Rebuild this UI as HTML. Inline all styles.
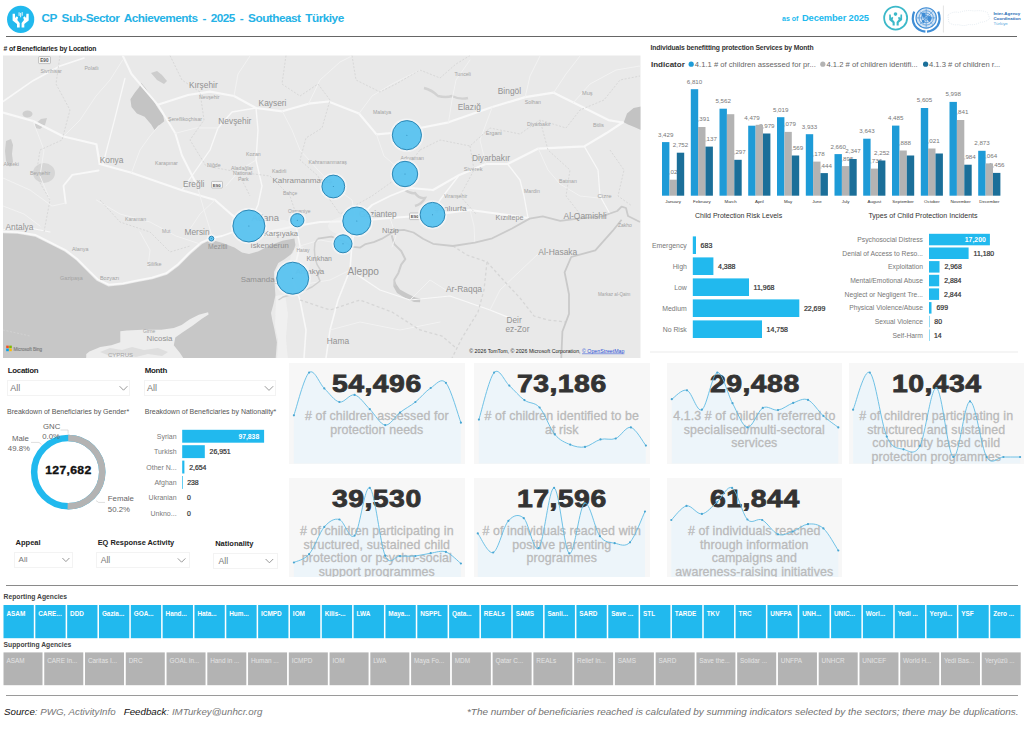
<!DOCTYPE html>
<html lang="en"><head><meta charset="utf-8"><title>CP Sub-Sector Achievements - 2025 - Southeast Türkiye</title>
<style>
html,body{margin:0;padding:0;background:#fff;}
body{width:1024px;height:730px;position:relative;overflow:hidden;font-family:"Liberation Sans",sans-serif;color:#333;}
.a{position:absolute;white-space:nowrap;line-height:1;}
svg{position:absolute;left:0;top:0;}
svg text{font-family:"Liberation Sans",sans-serif;}
.hl{position:absolute;height:1px;background:#666;}
.ttl{font-weight:bold;font-size:6.8px;color:#222;letter-spacing:-0.12px;}
.sl{font-weight:bold;font-size:7.9px;color:#222;letter-spacing:-0.3px;}
.dd{position:absolute;border:1px solid #f3f3f3;box-sizing:border-box;background:#fff;}
.dd span{position:absolute;left:2.2px;top:50%;transform:translateY(-50%);font-size:9px;color:#777;line-height:1;}
.kc{position:absolute;background:#f7f7f7;overflow:hidden;}
.kn{position:absolute;left:0;right:0;text-align:center;font-weight:bold;font-size:24.5px;color:#333;line-height:1;-webkit-text-stroke:0.8px #333;letter-spacing:0.4px;transform:scaleX(1.16);transform-origin:50% 50%;}
.kl{position:absolute;left:0;right:0;text-align:center;font-size:12.4px;line-height:13.6px;color:#bababa;-webkit-text-stroke:0.3px #bababa;white-space:nowrap;letter-spacing:0.1px;}
.rt{position:absolute;top:605px;height:33.2px;background:#21b9ee;color:#fff;font-weight:bold;font-size:6.4px;line-height:1;overflow:hidden;white-space:nowrap;}
.rt span{position:absolute;left:2.9px;top:5.2px;}
.st{position:absolute;top:652.4px;height:32.8px;background:#b3b3b3;color:#e4e4e4;font-size:6.4px;line-height:1;overflow:hidden;white-space:nowrap;}
.st span{position:absolute;left:2.9px;top:5px;}
</style></head><body>

<svg width="1024" height="40" viewBox="0 0 1024 40">
<circle cx="20.65" cy="19.4" r="13.6" fill="#21b9ee"/>
<path d="M12.6,13.7 L14.9,13.7 L15.2,18.1 L16.7,16.3 L18.1,17.5 L17.3,19.9 L19.7,23 L19.7,27.6 L17,27.6 L17,23.9 L12.6,20.5 Z" fill="#fff"/>
<path d="M28.7,13.7 L26.4,13.7 L26.1,18.1 L24.6,16.3 L23.2,17.5 L24,19.9 L21.6,23 L21.6,27.6 L24.3,27.6 L24.3,23.9 L28.7,20.5 Z" fill="#fff"/>
<path d="M19.1,12.7 v2.8 M20.65,13.3 v3.6 M22.2,12.5 v2.8" stroke="#fff" stroke-width="0.9" fill="none" stroke-linecap="round"/>
<circle cx="895.65" cy="18.1" r="11.5" fill="#fff" stroke="#3cb9c9" stroke-width="1.8"/>
<circle cx="895.5" cy="14.1" r="1.8" fill="#3cb9c9"/>
<path d="M889.2,14.6 L890.8,14.6 L891,18 L892.2,16.8 L893.3,17.7 L892.6,19.5 L894.7,22 L894.7,25.6 L892.6,25.6 L892.6,22.8 L889.2,20 Z" fill="#3cb9c9"/>
<path d="M902.1,14.6 L900.5,14.6 L900.3,18 L899.1,16.8 L898,17.7 L898.7,19.5 L896.6,22 L896.6,25.6 L898.7,25.6 L898.7,22.8 L902.1,20 Z" fill="#3cb9c9"/>
<g fill="none" stroke="#3f8dd5"><circle cx="926.2" cy="17.9" r="10.2" stroke-width="1.1" fill="#d3e4f5"/><circle cx="926.2" cy="17.9" r="7.2" stroke-width="0.7"/><circle cx="926.2" cy="17.9" r="4.8" stroke-width="0.7"/><circle cx="926.2" cy="17.9" r="2.4" stroke-width="0.7"/><path d="M916.6,17.9 h19.2 M926.2,8.3 v19.2 M919.4,11.1 l13.6,13.6 M933,11.1 l-13.6,13.6" stroke-width="0.6"/><path d="M921.5,13.5 q2.5,-2 4,0.5 q1,2.2 -1,3.4 q-2.6,0.6 -3,-3.9 z M927.4,16.5 q3,-1.6 4.2,1 q0.2,3.2 -2.2,4.4 q-2.2,-1.2 -2,-5.4 z M922.2,20 q1.8,-0.6 2.6,1.2 q-0.4,2.4 -1.8,2.2 q-1.4,-1.2 -0.8,-3.4 z" fill="#3f8dd5" stroke="none"/><path d="M925.4,31.6 q-7,-0.8 -10.6,-6 q-3.8,-6.4 -0.6,-14" stroke-width="2.2"/><path d="M927,31.6 q7,-0.8 10.6,-6 q3.8,-6.4 0.6,-14" stroke-width="2.2"/></g>
<rect x="942.9" y="5.5" width="0.8" height="27" fill="#dcdcdc"/>
<path d="M948,15 q5,-4 11,-2.5 q8,-3 15,-1.5 q8,-1.2 13.5,1.6 l2.2,6 q-4,3.6 -9,3.6 q-6,3.4 -12,2.2 q-5,2.2 -10,0.2 q-6,1 -10,-2.2 z" fill="none" stroke="#dfe7ee" stroke-width="0.8" stroke-dasharray="1 1.1"/>
</svg>
<div class="a" style="left:41.5px;top:12.7px;font-size:11.8px;font-weight:bold;color:#25b2e6;letter-spacing:-0.52px;word-spacing:2.15px;">CP Sub-Sector Achievements - 2025 - Southeast Türkiye</div>
<div class="a" style="left:782px;top:14.6px;font-size:7px;font-weight:bold;color:#21b9ee;">as of</div>
<div class="a" style="left:802px;top:13.3px;font-size:9.4px;font-weight:bold;color:#21b9ee;letter-spacing:-0.15px;">December 2025</div>
<div class="a" style="left:993.4px;top:12.1px;font-size:4.4px;font-weight:bold;color:#2a6db5;line-height:4.9px;">Inter-Agency<br>Coordination<br><span style="color:#5aa9e0;font-weight:normal">Türkiye</span></div>
<div class="hl" style="left:6px;width:1011px;top:35.5px;height:1.25px;background:#666;"></div>
<div class="a ttl" style="left:3.5px;top:45.9px;"># of Beneficiaries by Location</div>
<div class="a ttl" style="left:650.5px;top:45.2px;color:#333;">Individuals benefitting protection Services by Month</div><svg width="1024" height="362" viewBox="0 0 1024 362">
<defs><clipPath id="mc"><rect x="3" y="55.5" width="637.5" height="302.5"/></clipPath></defs>
<g clip-path="url(#mc)">
<rect x="3" y="55" width="638" height="304" fill="#e9e9e9"/>
<path d="M0.0,233.0 L2.9,233.2 L17.6,233.8 L35.2,236.7 L49.8,244.0 L64.5,251.4 L76.2,260.2 L87.9,271.9 L96.7,280.7 L108.4,286.5 L123.0,285.1 L137.7,282.1 L152.4,279.2 L167.0,274.8 L178.7,266.0 L190.4,254.3 L202.2,244.0 L211.0,239.8 L222.7,243.0 L234.4,247.5 L242.0,252.5 L249.0,254.0 L258.0,251.5 L264.8,248.0 L274.0,244.0 L282.3,240.8 L294.4,238.5 L295.4,245.0 L293.0,252.8 L284.5,259.2 L278.3,263.1 L274.0,271.9 L274.6,283.0 L275.4,295.3 L273.5,304.0 L271.0,312.9 L272.4,320.7 L274.0,327.5 L276.9,342.2 L275.4,362.0 L0.0,362.0 Z" fill="#c7c7c7"/>
<path d="M86.0,362.0 L86.3,353.9 L89.4,351.6 L100.3,346.9 L111.3,345.3 L120.3,342.2 L120.3,331.3 L126.9,330.5 L142.5,329.7 L161.3,329.7 L173.8,328.1 L181.6,325.0 L189.4,319.5 L198.8,314.8 L208.1,312.3 L208.6,314.6 L201.9,318.8 L192.5,325.8 L183.1,332.0 L175.3,337.5 L173.8,345.3 L180.0,353.1 L183.1,357.8 L184.0,362.0 Z" fill="#ededed"/>
<path d="M100,352 l10,-4 l12,2 l10,-3 l12,3 l14,-2 l10,4 l-6,4 l-14,-2 l-12,3 l-14,-3 l-12,2 z" fill="#dedede"/>
<path d="M3,231.6 L17.6,232.2 L35.6,235 L50.6,242.6 L65.4,250 L77.2,259 L88.8,270.6 L97.6,279.2 L108.8,284.6 L123,283.4 L137.4,280.4 L152,277.6 L166.2,273.2 L177.4,264.8 L189,253.2 L201,242.6 L211,238.2 L222,236 L236,231 L248,226" fill="none" stroke="#f9f9f9" stroke-width="1.8" stroke-linejoin="round"/>
<path d="M141.3,82.9 L145.7,88.3 L151.2,97.1 L157.8,108.0 L163.2,115.7 L164.3,121.2 L158.9,125.6 L154.5,130.0 L151.2,124.5 L144.6,116.8 L136.9,113.5 L131.5,107.0 L130.4,99.3 L134.7,92.7 L139.1,87.2 Z" fill="#c4c4c4"/>
<path d="M151,73 l6,-2 l5,4 l5,6 l-3,3 l-7,-4 z" fill="#cdcdcd"/>
<ellipse cx="27.5" cy="114" rx="5" ry="3.4" fill="#cfcfcf"/>
<path d="M35,124 l6,-5 l6,-1 l-2,7 l-5,4 l-5,-1 z" fill="#cfcfcf"/>
<path d="M6,141 l5,-2 l2,6 l-1,9 l1,8 l-3,5 l-4,-6 l-1,-10 z" fill="#cdcdcd"/>
<ellipse cx="44" cy="173" rx="11" ry="10" fill="#d6d6d6"/>
<path d="M623.8,122.3 L627,113.5 L633.6,108 L641,106.5 L641,130 L633.6,126.7 L628,124.5 Z" fill="#c3c3c3"/>
<path d="M394.3,279.7 L393.4,286.5 L397,293 L405.6,298.2 L414,302 L420,302.2 L420.4,298.4 L415.4,297.4 L407.6,293.8 L400,289.6 L396.6,284.6 Z" fill="#c8c8c8"/>
<path d="M391.6,235.3 L394.3,244.1 L401.2,251 L405.3,259.2 L401.2,264.6 L398.4,272.9 L394.3,279.7 L394.6,286" fill="none" stroke="#cdcdcd" stroke-width="2" stroke-linejoin="round"/>
<path d="M424,88 q8,2 14,8 q8,2 14,0 q8,4 16,2" fill="none" stroke="#d2d2d2" stroke-width="2.4"/>
<path d="M405,190 q6,4 10,3 q4,6 10,5 q-3,6 -10,8" fill="none" stroke="#d0d0d0" stroke-width="2.4"/>
<path d="M3,112.5 L33,121 L63.5,136.5 L96.4,144.2 L99.7,164" fill="none" stroke="#f8f8f8" stroke-linecap="round" stroke-linejoin="round" stroke-width="2.2"/>
<path d="M99.7,164 L131.5,172.7 L181.9,190.2 L215,200" fill="none" stroke="#f8f8f8" stroke-linecap="round" stroke-linejoin="round" stroke-width="2.2"/>
<path d="M3,101.5 L33,80.7 L60,66 L84,58" fill="none" stroke="#f8f8f8" stroke-linecap="round" stroke-linejoin="round" stroke-width="1.6"/>
<path d="M122.7,55.5 L131.5,74 L157.8,104.8 L175.3,133.3 L181.9,155.2 L197.2,185.8" fill="none" stroke="#f8f8f8" stroke-linecap="round" stroke-linejoin="round" stroke-width="2"/>
<path d="M124.9,78.5 L113.9,122.3 L103,164" fill="none" stroke="#f8f8f8" stroke-linecap="round" stroke-linejoin="round" stroke-width="1.3"/>
<path d="M65.7,203.4 L63.5,185.8 L72.3,174.9 L98.6,170.5" fill="none" stroke="#f8f8f8" stroke-linecap="round" stroke-linejoin="round" stroke-width="1.8"/>
<path d="M157.8,104.8 L188,95 L210,91.6 L234,96 L256,108 L282.3,111.3 L308.6,103.7 L328.3,101.5 L359,113.5 L376.5,134.4 L392,133" fill="none" stroke="#f8f8f8" stroke-linecap="round" stroke-linejoin="round" stroke-width="2.2"/>
<path d="M215,200 L232,215 L248,226 L268,232 L296,226 L320,222 L356,221 L390,218 L432,215 L470,210 L500,214 L528,218" fill="none" stroke="#f8f8f8" stroke-linecap="round" stroke-linejoin="round" stroke-width="2.2"/>
<path d="M392,133 L420,128 L448.5,122.3 L492.3,107 L525.2,97.1 L553.7,92.7 L573.4,102.6 L608.4,120.1 L622.5,122.5" fill="none" stroke="#f8f8f8" stroke-linecap="round" stroke-linejoin="round" stroke-width="2.2"/>
<path d="M433,190 L459.4,174.9 L485.7,164 L507.6,164 L538.3,148.6 L584.3,146.4 L606.2,133.3 L622.5,122.5" fill="none" stroke="#f8f8f8" stroke-linecap="round" stroke-linejoin="round" stroke-width="2.2"/>
<path d="M356,221 L372,205 L390,196 L410,188 L433,190" fill="none" stroke="#f8f8f8" stroke-linecap="round" stroke-linejoin="round" stroke-width="1.8"/>
<path d="M248,226 L258,205 L262,186 L256,160 L258,130 L256,108" fill="none" stroke="#f8f8f8" stroke-linecap="round" stroke-linejoin="round" stroke-width="1.4"/>
<path d="M296,226 L300,246 L296,262 L292,278 L300,300 L306,330 L304,358" fill="none" stroke="#f8f8f8" stroke-linecap="round" stroke-linejoin="round" stroke-width="1.6"/>
<path d="M356,221 L352,244 L350,270 L338,300 L330,330 L326,358" fill="none" stroke="#f8f8f8" stroke-linecap="round" stroke-linejoin="round" stroke-width="1.6"/>
<path d="M350,270 L380,290 L410,300 L450,296 L490,310 L520,322" fill="none" stroke="#f8f8f8" stroke-linecap="round" stroke-linejoin="round" stroke-width="1.2"/>
<path d="M507.6,164 L520,180 L524,196 L528,218" fill="none" stroke="#f8f8f8" stroke-linecap="round" stroke-linejoin="round" stroke-width="1.3"/>
<path d="M3,230 L20,226 L50,232" fill="none" stroke="#f8f8f8" stroke-linecap="round" stroke-linejoin="round" stroke-width="1.2"/>
<path d="M181.9,190.2 L196,170 L210,150 L218,128 L232,112 L256,108" fill="none" stroke="#f8f8f8" stroke-linecap="round" stroke-linejoin="round" stroke-width="1.3"/>
<path d="M459.4,174.9 L440,200 L432,215" fill="none" stroke="#f8f8f8" stroke-linecap="round" stroke-linejoin="round" stroke-width="1.4"/>
<path d="M584.3,146.4 L598,170 L600,196 L610,214" fill="none" stroke="#f8f8f8" stroke-linecap="round" stroke-linejoin="round" stroke-width="1.2"/>
<path d="M3,178 L30,190 L52,206 L66,203" fill="none" stroke="#f2f2f2" stroke-linecap="round" stroke-linejoin="round" stroke-width="1"/>
<path d="M33,121 L44,150 L40,176 L50,200" fill="none" stroke="#f2f2f2" stroke-linecap="round" stroke-linejoin="round" stroke-width="1"/>
<path d="M63.5,136.5 L80,120 L96,96 L110,80 L122.7,60" fill="none" stroke="#f2f2f2" stroke-linecap="round" stroke-linejoin="round" stroke-width="1"/>
<path d="M131.5,172.7 L140,150 L150,136 L158.9,125.6" fill="none" stroke="#f2f2f2" stroke-linecap="round" stroke-linejoin="round" stroke-width="1"/>
<path d="M175.3,133.3 L196,128 L218,128" fill="none" stroke="#f2f2f2" stroke-linecap="round" stroke-linejoin="round" stroke-width="1"/>
<path d="M197.2,185.8 L204,210 L212,236" fill="none" stroke="#f2f2f2" stroke-linecap="round" stroke-linejoin="round" stroke-width="1"/>
<path d="M96.4,200 L120,214 L150,222 L176,236 L200,244" fill="none" stroke="#f2f2f2" stroke-linecap="round" stroke-linejoin="round" stroke-width="1"/>
<path d="M215,200 L200,214 L188,232" fill="none" stroke="#f2f2f2" stroke-linecap="round" stroke-linejoin="round" stroke-width="1"/>
<path d="M234,96 L238,74 L250,56" fill="none" stroke="#f2f2f2" stroke-linecap="round" stroke-linejoin="round" stroke-width="1"/>
<path d="M282.3,111.3 L292,130 L300,150 L318,170 L333,186" fill="none" stroke="#f2f2f2" stroke-linecap="round" stroke-linejoin="round" stroke-width="1"/>
<path d="M308.6,103.7 L320,80 L340,62 L352,56" fill="none" stroke="#f2f2f2" stroke-linecap="round" stroke-linejoin="round" stroke-width="1"/>
<path d="M359,113.5 L372,96 L392,84 L420,70" fill="none" stroke="#f2f2f2" stroke-linecap="round" stroke-linejoin="round" stroke-width="1"/>
<path d="M333,186 L352,200 L356,221" fill="none" stroke="#f2f2f2" stroke-linecap="round" stroke-linejoin="round" stroke-width="1"/>
<path d="M376.5,134.4 L384,156 L405,174" fill="none" stroke="#f2f2f2" stroke-linecap="round" stroke-linejoin="round" stroke-width="1"/>
<path d="M448.5,122.3 L452,100 L456,80 L470,60" fill="none" stroke="#f2f2f2" stroke-linecap="round" stroke-linejoin="round" stroke-width="1"/>
<path d="M485.7,164 L480,140 L492.3,107" fill="none" stroke="#f2f2f2" stroke-linecap="round" stroke-linejoin="round" stroke-width="1"/>
<path d="M525.2,97.1 L530,76 L540,56" fill="none" stroke="#f2f2f2" stroke-linecap="round" stroke-linejoin="round" stroke-width="1"/>
<path d="M553.7,92.7 L566,74 L580,56" fill="none" stroke="#f2f2f2" stroke-linecap="round" stroke-linejoin="round" stroke-width="1"/>
<path d="M573.4,102.6 L590,84 L616,70 L640,66" fill="none" stroke="#f2f2f2" stroke-linecap="round" stroke-linejoin="round" stroke-width="1"/>
<path d="M538.3,148.6 L548,170 L560,184 L580,196 L598,198" fill="none" stroke="#f2f2f2" stroke-linecap="round" stroke-linejoin="round" stroke-width="1"/>
<path d="M390,218 L396,236 L392,247" fill="none" stroke="#f2f2f2" stroke-linecap="round" stroke-linejoin="round" stroke-width="1"/>
<path d="M470,210 L474,226 L474.8,242.7" fill="none" stroke="#f2f2f2" stroke-linecap="round" stroke-linejoin="round" stroke-width="1"/>
<path d="M330,330 L360,322 L400,330 L440,322" fill="none" stroke="#f2f2f2" stroke-linecap="round" stroke-linejoin="round" stroke-width="1"/>
<path d="M350,270 L330,280 L306,284" fill="none" stroke="#f2f2f2" stroke-linecap="round" stroke-linejoin="round" stroke-width="1"/>
<path d="M410,300 L430,280 L445.9,290" fill="none" stroke="#f2f2f2" stroke-linecap="round" stroke-linejoin="round" stroke-width="1"/>
<path d="M490,310 L500,290 L538,254" fill="none" stroke="#f2f2f2" stroke-linecap="round" stroke-linejoin="round" stroke-width="1"/>
<path d="M3,206 L24,214 L40,226" fill="none" stroke="#f2f2f2" stroke-linecap="round" stroke-linejoin="round" stroke-width="1"/>
<path d="M140,232 L150,250 L148,268" fill="none" stroke="#f2f2f2" stroke-linecap="round" stroke-linejoin="round" stroke-width="1"/>
<path d="M256,160 L240,170 L226,186" fill="none" stroke="#f2f2f2" stroke-linecap="round" stroke-linejoin="round" stroke-width="1"/>
<path d="M300,246 L320,240 L343,244" fill="none" stroke="#f2f2f2" stroke-linecap="round" stroke-linejoin="round" stroke-width="1"/>
<path d="M276,296 l9,-2 l3,20 l-2,24 l2,22 h-11 l1,-20 l-3,-14 z" fill="#f1f1f1" opacity="0.8"/>
<ellipse cx="272" cy="228" rx="26" ry="9" fill="#f3f3f3" opacity="0.55"/>
<ellipse cx="350" cy="226" rx="22" ry="10" fill="#f3f3f3" opacity="0.5"/>
<ellipse cx="300" cy="262" rx="10" ry="16" fill="#f3f3f3" opacity="0.5"/>
<path d="M60,55.5 L56,84 L70,110 L62,140 L40,150 L36,176 L50,200 L44,232" fill="none" stroke="#d3d3d3" stroke-width="0.8" stroke-dasharray="2 1.6"/>
<path d="M170,55.5 L182,80 L200,92 L204,120 L190,140 L206,166 L238,172 L250,196" fill="none" stroke="#d3d3d3" stroke-width="0.8" stroke-dasharray="2 1.6"/>
<path d="M286,55.5 L282,84 L300,96 L318,84 L330,100 L322,128 L306,138 L300,160 L318,176 L330,200" fill="none" stroke="#d3d3d3" stroke-width="0.8" stroke-dasharray="2 1.6"/>
<path d="M352,55.5 L356,80 L380,92 L396,84 L420,70 L440,78 L456,64 L470,55.5" fill="none" stroke="#d3d3d3" stroke-width="0.8" stroke-dasharray="2 1.6"/>
<path d="M420,150 L440,140 L470,146 L490,128 L520,134 L540,120 L566,128 L580,110 L604,100 L620,80 L640,76" fill="none" stroke="#d3d3d3" stroke-width="0.8" stroke-dasharray="2 1.6"/>
<path d="M470,146 L474,170 L460,196 L476,214" fill="none" stroke="#d3d3d3" stroke-width="0.8" stroke-dasharray="2 1.6"/>
<path d="M540,120 L548,150 L570,170 L566,196 L580,214" fill="none" stroke="#d3d3d3" stroke-width="0.8" stroke-dasharray="2 1.6"/>
<path d="M100,200 L120,222 L150,232 L170,252 L190,246" fill="none" stroke="#d3d3d3" stroke-width="0.8" stroke-dasharray="2 1.6"/>
<path d="M238,172 L270,176 L290,196 L296,214" fill="none" stroke="#d3d3d3" stroke-width="0.8" stroke-dasharray="2 1.6"/>
<path d="M330,200 L340,214 L372,196 L400,176 L420,150" fill="none" stroke="#d3d3d3" stroke-width="0.8" stroke-dasharray="2 1.6"/>
<path d="M3,330 L30,336" fill="none" stroke="#d3d3d3" stroke-width="0.8" stroke-dasharray="2 1.6"/>
<path d="M610,150 L624,170 L618,196 L632,206" fill="none" stroke="#d3d3d3" stroke-width="0.8" stroke-dasharray="2 1.6"/>
<path d="M452.9,246 L467,255 L487,262 L484,290 L478,312 L462,338 L452,358" fill="none" stroke="#d6d6d6" stroke-width="1.3" stroke-dasharray="3 2.4"/>
<path d="M487,262 L505,282 L520,298 L534,316 L548,320 L566,322" fill="none" stroke="#d6d6d6" stroke-width="1.3" stroke-dasharray="3 2.4"/>
<path d="M300,300 L330,310 L360,300 L392,312 L420,330 L442,336 L456,348" fill="none" stroke="#d6d6d6" stroke-width="1.3" stroke-dasharray="3 2.4"/>
<path d="M317.8,238.7 L331.4,236.6 L343,241 L353.3,246.9 L360.2,247.6 L365.6,244.1 L373.8,242.1 L382,238.7 L388.9,234.6 L395.7,230.5 L403.9,229.8 L413.5,232.5 L423,238.7 L433.1,243.8 L452.9,246 L474.8,242.7 L492.3,238.3 L512,228.5 L529.6,218.6 L542.7,216.4 L560.2,220.8 L577.8,218.6 L601.9,216.4 L617.2,211 L621.6,206.6 L626,208 L628,216 L640,222" fill="none" stroke="#cbcbcb" stroke-width="1.8" stroke-linejoin="round"/>
<path d="M317.8,238.7 L315,242.8 L314.4,249.6 L315,257.8 L317.1,264.6 L320.5,270.1 L317.8,275.6 L320,281 L312,287 L302,291.5 L292,294.5 L283,297 L278.5,300" fill="none" stroke="#d0d0d0" stroke-width="1.5" stroke-linejoin="round"/>
<path d="M621.6,219.7 L612.8,230.7 L595.3,250.4 L571.2,257 L564.6,272.3 L569,294.2 L569,313.9 L562.4,331.5 L561.3,358" fill="none" stroke="#c9c9c9" stroke-width="1.8" stroke-linejoin="round"/>
<text x="99.7" y="162.8" font-size="8.37" fill="#929292" >Konya</text>
<text x="188.9" y="88.2" font-size="8.37" fill="#929292" >Kırşehir</text>
<text x="183.0" y="187.2" font-size="8.37" fill="#929292" >Ereğli</text>
<text x="258.6" y="105.8" font-size="8.37" fill="#929292" >Kayseri</text>
<text x="218.3" y="123.7" font-size="8.37" fill="#929292" >Nevşehir</text>
<text x="272.4" y="182.9" font-size="8.1" fill="#929292" >Kahramanmaraş</text>
<text x="497.8" y="94.4" font-size="8.37" fill="#929292" >Bingöl</text>
<text x="457.7" y="109.7" font-size="8.37" fill="#929292" >Elazığ</text>
<text x="471.9" y="160.6" font-size="8.37" fill="#929292" >Diyarbakır</text>
<text x="5.5" y="230.3" font-size="8.37" fill="#929292" >Antalya</text>
<text x="184.5" y="235.0" font-size="8.37" fill="#929292" >Mersin</text>
<text x="251.6" y="221.2" font-size="9.45" fill="#929292" >Adana</text>
<text x="263.7" y="236.0" font-size="7.74" fill="#929292" >Karşıyaka</text>
<text x="250.5" y="248.2" font-size="7.74" fill="#929292" >İskenderun</text>
<text x="240.7" y="281.5" font-size="7.92" fill="#929292" >Samandağ</text>
<text x="295.5" y="273.6" font-size="7.92" fill="#929292" >Antakya</text>
<text x="347.6" y="274.5" font-size="10.08" fill="#929292" >Aleppo</text>
<text x="326.8" y="344.0" font-size="8.37" fill="#929292" >Hama</text>
<text x="359.0" y="216.8" font-size="8.28" fill="#929292" >Gaziantep</text>
<text x="382.0" y="233.2" font-size="7.56" fill="#929292" >Nizip</text>
<text x="434.0" y="210.8" font-size="8.1" fill="#929292" >Şanlıurfa</text>
<text x="495.6" y="220.0" font-size="7.2" fill="#929292" >Kızıltepe</text>
<text x="563.5" y="218.6" font-size="8.46" fill="#929292" >Al-Qamishli</text>
<text x="538.3" y="254.7" font-size="8.46" fill="#929292" >Al-Hasaka</text>
<text x="445.9" y="292.0" font-size="8.46" fill="#929292" >Ar-Raqqa</text>
<text x="506.5" y="323.0" font-size="8.28" fill="#929292" >Deir</text>
<text x="505.5" y="331.6" font-size="8.28" fill="#929292" >ez-Zor</text>
<text x="146.6" y="340.6" font-size="7.92" fill="#929292" >Nicosia</text>
<text x="306.4" y="261.2" font-size="6.84" fill="#929292" >Kırıkhan</text>
<text x="208.0" y="248.6" font-size="6.84" fill="#929292" >Mezitli</text>
<text x="40.5" y="72.6" font-size="5.2" fill="#a3a3a3" >Sivrihisar</text>
<text x="84.4" y="70.4" font-size="5.2" fill="#a3a3a3" >Polatlı</text>
<text x="168.0" y="121.0" font-size="5.2" fill="#a3a3a3" >Şereflikoçhisar</text>
<text x="199.0" y="98.6" font-size="5.2" fill="#a3a3a3" >Nevşehir</text>
<text x="155.0" y="165.4" font-size="5.2" fill="#a3a3a3" >Karapınar</text>
<text x="207.0" y="167.0" font-size="5.2" fill="#a3a3a3" >Niğde</text>
<text x="246.0" y="155.8" font-size="5.2" fill="#a3a3a3" >Kozan</text>
<text x="272.0" y="173.0" font-size="5.2" fill="#a3a3a3" >Kadirli</text>
<text x="308.6" y="163.8" font-size="5.2" fill="#a3a3a3" >Kahramanmaraş</text>
<text x="373.0" y="113.8" font-size="5.2" fill="#a3a3a3" >Malatya</text>
<text x="400.6" y="160.3" font-size="5.2" fill="#a3a3a3" >Adıyaman</text>
<text x="454.4" y="75.8" font-size="5.2" fill="#a3a3a3" >Tunceli</text>
<text x="485.7" y="135.0" font-size="5.6" fill="#a3a3a3" >Ergani</text>
<text x="463.8" y="171.2" font-size="5.6" fill="#a3a3a3" >Siverek</text>
<text x="582.0" y="94.5" font-size="5.6" fill="#a3a3a3" >Muş</text>
<text x="593.0" y="127.4" font-size="5.2" fill="#a3a3a3" >Bitlis</text>
<text x="524.0" y="192.8" font-size="5.2" fill="#a3a3a3" >Mardin</text>
<text x="559.0" y="183.3" font-size="5.2" fill="#a3a3a3" >Batman</text>
<text x="597.5" y="198.4" font-size="6" fill="#a3a3a3" >Cizre</text>
<text x="524.8" y="103.6" font-size="5.2" fill="#a3a3a3" >Solhan</text>
<text x="527.0" y="125.6" font-size="5.2" fill="#a3a3a3" >Diyarbakır</text>
<text x="125.0" y="221.0" font-size="5.2" fill="#a3a3a3" >Karaman</text>
<text x="72.0" y="251.0" font-size="5.4" fill="#a3a3a3" >Alanya</text>
<text x="60.0" y="280.0" font-size="5.4" fill="#a3a3a3" >Gazipaşa</text>
<text x="100.0" y="280.0" font-size="5.4" fill="#a3a3a3" >Bozyazı</text>
<text x="147.0" y="265.6" font-size="5.4" fill="#a3a3a3" >Silifke</text>
<text x="162.0" y="232.6" font-size="5" fill="#a3a3a3" >Mut</text>
<text x="296.5" y="251.6" font-size="5" fill="#a3a3a3" >Hatay</text>
<text x="288.0" y="213.2" font-size="5" fill="#a3a3a3" >Osmaniye</text>
<text x="3.5" y="166.4" font-size="5.2" fill="#a3a3a3" >Akseki</text>
<text x="30.0" y="175.0" font-size="5.2" fill="#a3a3a3" >Beyşehir</text>
<text x="143.0" y="333.0" font-size="5" fill="#a3a3a3" >Girne</text>
<text x="108.0" y="357.0" font-size="6" fill="#a3a3a3" >CYPRUS</text>
<text x="598.0" y="296.0" font-size="4.6" fill="#a3a3a3" >Markaz al-Qaim</text>
<text x="444.0" y="198.0" font-size="5.2" fill="#a3a3a3" >Viranşehir</text>
<text x="231.0" y="170.0" font-size="5.2" fill="#a3a3a3" >Aladağlar</text>
<text x="233.0" y="175.4" font-size="5.2" fill="#a3a3a3" >National</text>
<text x="238.0" y="180.6" font-size="5.2" fill="#a3a3a3" >Park</text>
<text x="618.0" y="227.0" font-size="5" fill="#a3a3a3" >Zakho</text>
<text x="283.0" y="195.0" font-size="5" fill="#a3a3a3" >Bahçe</text>
<rect x="38.5" y="56.6" width="12" height="7" rx="1" fill="#f6f6f6" stroke="#999" stroke-width="0.5"/><text x="40.3" y="62" font-size="4.6" font-weight="bold" fill="#555">E90</text>
<rect x="211.5" y="181.4" width="11" height="6.6" rx="1" fill="#f6f6f6" stroke="#999" stroke-width="0.5"/><text x="212.8" y="186.6" font-size="4.4" font-weight="bold" fill="#555">E90</text>
<rect x="409.5" y="213" width="11" height="6.6" rx="1" fill="#f6f6f6" stroke="#999" stroke-width="0.5"/><text x="410.8" y="218.2" font-size="4.4" font-weight="bold" fill="#555">E90</text>
<circle cx="406.9" cy="135.2" r="16.8" fill="#f4f6f7" fill-opacity="0.75"/>
<circle cx="406.9" cy="135.2" r="14.6" fill="#47bcef" fill-opacity="0.85" stroke="#2c88b6" stroke-width="1"/>
<circle cx="406.9" cy="135.2" r="0.5" fill="#2c88b6"/>
<circle cx="405.0" cy="174.0" r="14.9" fill="#f4f6f7" fill-opacity="0.75"/>
<circle cx="405.0" cy="174.0" r="12.7" fill="#47bcef" fill-opacity="0.85" stroke="#2c88b6" stroke-width="1"/>
<circle cx="405.0" cy="174.0" r="0.5" fill="#2c88b6"/>
<circle cx="333.3" cy="186.5" r="13.6" fill="#f4f6f7" fill-opacity="0.75"/>
<circle cx="333.3" cy="186.5" r="11.4" fill="#47bcef" fill-opacity="0.85" stroke="#2c88b6" stroke-width="1"/>
<circle cx="333.3" cy="186.5" r="0.5" fill="#2c88b6"/>
<circle cx="248.9" cy="226.0" r="18.2" fill="#f4f6f7" fill-opacity="0.75"/>
<circle cx="248.9" cy="226.0" r="16.0" fill="#47bcef" fill-opacity="0.85" stroke="#2c88b6" stroke-width="1"/>
<circle cx="248.9" cy="226.0" r="0.5" fill="#2c88b6"/>
<circle cx="297.3" cy="220.2" r="8.8" fill="#f4f6f7" fill-opacity="0.75"/>
<circle cx="297.3" cy="220.2" r="6.6" fill="#47bcef" fill-opacity="0.85" stroke="#2c88b6" stroke-width="1"/>
<circle cx="297.3" cy="220.2" r="0.5" fill="#2c88b6"/>
<circle cx="356.8" cy="221.0" r="16.2" fill="#f4f6f7" fill-opacity="0.75"/>
<circle cx="356.8" cy="221.0" r="14.0" fill="#47bcef" fill-opacity="0.85" stroke="#2c88b6" stroke-width="1"/>
<circle cx="356.8" cy="221.0" r="0.5" fill="#2c88b6"/>
<circle cx="432.5" cy="214.8" r="14.6" fill="#f4f6f7" fill-opacity="0.75"/>
<circle cx="432.5" cy="214.8" r="12.4" fill="#47bcef" fill-opacity="0.85" stroke="#2c88b6" stroke-width="1"/>
<circle cx="432.5" cy="214.8" r="0.5" fill="#2c88b6"/>
<circle cx="343.0" cy="243.8" r="11.2" fill="#f4f6f7" fill-opacity="0.75"/>
<circle cx="343.0" cy="243.8" r="9.0" fill="#47bcef" fill-opacity="0.85" stroke="#2c88b6" stroke-width="1"/>
<circle cx="343.0" cy="243.8" r="0.5" fill="#2c88b6"/>
<circle cx="292.7" cy="278.2" r="18.2" fill="#f4f6f7" fill-opacity="0.75"/>
<circle cx="292.7" cy="278.2" r="16.0" fill="#47bcef" fill-opacity="0.85" stroke="#2c88b6" stroke-width="1"/>
<circle cx="292.7" cy="278.2" r="0.5" fill="#2c88b6"/>
<circle cx="211.4" cy="238.6" r="4.6" fill="#f4f6f7" fill-opacity="0.75"/>
<circle cx="211.4" cy="238.6" r="2.4" fill="#47bcef" fill-opacity="0.85" stroke="#2c88b6" stroke-width="1"/>
<circle cx="211.4" cy="238.6" r="0.5" fill="#2c88b6"/>
<rect x="6.2" y="345.6" width="2.6" height="2.6" fill="#f25022"/><rect x="9.2" y="345.6" width="2.6" height="2.6" fill="#7fba00"/><rect x="6.2" y="348.6" width="2.6" height="2.6" fill="#00a4ef"/><rect x="9.2" y="348.6" width="2.6" height="2.6" fill="#ffb900"/>
<text x="13.4" y="350.8" font-size="4.5" fill="#808080" stroke="#808080" stroke-width="0.15">Microsoft Bing</text>
<text x="469.3" y="352.6" font-size="5.25" fill="#222">© 2026 TomTom, © 2026 Microsoft Corporation, <tspan fill="#2a4fd6" text-decoration="underline">© OpenStreetMap</tspan></text>
</g></svg><svg width="1024" height="360" viewBox="0 0 1024 360">
<text x="651" y="67" font-size="8" font-weight="bold" fill="#333">Indicator</text>
<circle cx="691.2" cy="64.2" r="2.6" fill="#1e9bd7"/>
<text x="694.8" y="66.8" font-size="7.65" fill="#666">4.1.1 # of children assessed for pr...</text>
<circle cx="822.8" cy="64.2" r="2.6" fill="#b3b3b3"/>
<text x="826.4" y="66.8" font-size="7.65" fill="#666">4.1.2 # of children identifi...</text>
<circle cx="925.6" cy="64.2" r="2.6" fill="#1b6f99"/>
<text x="928.9" y="66.8" font-size="7.65" fill="#666">4.1.3 # of children r...</text>
<text x="665.7" y="136.5" font-size="6.2" fill="#777" text-anchor="middle">3,429</text>
<text x="673.1" y="174.1" font-size="6.2" fill="#777" text-anchor="middle">1,025</text>
<text x="680.5" y="147.1" font-size="6.2" fill="#777" text-anchor="middle">2,752</text>
<text x="694.5" y="83.6" font-size="6.2" fill="#777" text-anchor="middle">6,810</text>
<text x="701.9" y="121.4" font-size="6.2" fill="#777" text-anchor="middle">4,391</text>
<text x="709.2" y="141.0" font-size="6.2" fill="#777" text-anchor="middle">3,137</text>
<text x="723.2" y="103.1" font-size="6.2" fill="#777" text-anchor="middle">5,562</text>
<text x="738.0" y="154.2" font-size="6.2" fill="#777" text-anchor="middle">2,297</text>
<text x="752.0" y="120.1" font-size="6.2" fill="#777" text-anchor="middle">4,479</text>
<text x="766.8" y="127.9" font-size="6.2" fill="#777" text-anchor="middle">3,979</text>
<text x="780.7" y="111.6" font-size="6.2" fill="#777" text-anchor="middle">5,019</text>
<text x="788.1" y="126.3" font-size="6.2" fill="#777" text-anchor="middle">4,079</text>
<text x="795.5" y="149.9" font-size="6.2" fill="#777" text-anchor="middle">2,569</text>
<text x="809.5" y="128.6" font-size="6.2" fill="#777" text-anchor="middle">3,933</text>
<text x="816.9" y="156.0" font-size="6.2" fill="#777" text-anchor="middle">2,178</text>
<text x="824.2" y="167.5" font-size="6.2" fill="#777" text-anchor="middle">1,444</text>
<text x="838.2" y="148.5" font-size="6.2" fill="#777" text-anchor="middle">2,660</text>
<text x="845.6" y="160.5" font-size="6.2" fill="#777" text-anchor="middle">1,895</text>
<text x="853.0" y="153.4" font-size="6.2" fill="#777" text-anchor="middle">2,347</text>
<text x="867.0" y="133.1" font-size="6.2" fill="#777" text-anchor="middle">3,643</text>
<text x="874.4" y="163.0" font-size="6.2" fill="#777" text-anchor="middle">1,736</text>
<text x="881.8" y="154.9" font-size="6.2" fill="#777" text-anchor="middle">2,252</text>
<text x="895.7" y="120.0" font-size="6.2" fill="#777" text-anchor="middle">4,485</text>
<text x="903.1" y="144.9" font-size="6.2" fill="#777" text-anchor="middle">2,888</text>
<text x="924.5" y="102.4" font-size="6.2" fill="#777" text-anchor="middle">5,605</text>
<text x="931.9" y="142.9" font-size="6.2" fill="#777" text-anchor="middle">3,021</text>
<text x="953.2" y="96.3" font-size="6.2" fill="#777" text-anchor="middle">5,998</text>
<text x="960.6" y="114.4" font-size="6.2" fill="#777" text-anchor="middle">4,841</text>
<text x="968.0" y="159.1" font-size="6.2" fill="#777" text-anchor="middle">1,984</text>
<text x="982.0" y="145.2" font-size="6.2" fill="#777" text-anchor="middle">2,873</text>
<text x="989.4" y="157.8" font-size="6.2" fill="#777" text-anchor="middle">2,064</text>
<text x="996.8" y="167.3" font-size="6.2" fill="#777" text-anchor="middle">1,456</text>
<rect x="662.0" y="142.1" width="7.4" height="53.6" fill="#1e9bd7"/>
<rect x="669.4" y="179.7" width="7.4" height="16.0" fill="#b3b3b3"/>
<rect x="676.8" y="152.7" width="7.4" height="43.0" fill="#1b6f99"/>
<text x="673.1" y="203.4" font-size="4.4" fill="#333" text-anchor="middle">January</text>
<rect x="690.8" y="89.2" width="7.4" height="106.5" fill="#1e9bd7"/>
<rect x="698.1" y="127.0" width="7.4" height="68.7" fill="#b3b3b3"/>
<rect x="705.5" y="146.6" width="7.4" height="49.1" fill="#1b6f99"/>
<text x="701.9" y="203.4" font-size="4.4" fill="#333" text-anchor="middle">February</text>
<rect x="719.5" y="108.7" width="7.4" height="87.0" fill="#1e9bd7"/>
<rect x="726.9" y="114.2" width="7.4" height="81.5" fill="#b3b3b3"/>
<rect x="734.3" y="159.8" width="7.4" height="35.9" fill="#1b6f99"/>
<text x="730.6" y="203.4" font-size="4.4" fill="#333" text-anchor="middle">March</text>
<rect x="748.2" y="125.7" width="7.4" height="70.0" fill="#1e9bd7"/>
<rect x="755.6" y="124.8" width="7.4" height="70.9" fill="#b3b3b3"/>
<rect x="763.0" y="133.5" width="7.4" height="62.2" fill="#1b6f99"/>
<text x="759.4" y="203.4" font-size="4.4" fill="#333" text-anchor="middle">April</text>
<rect x="777.0" y="117.2" width="7.4" height="78.5" fill="#1e9bd7"/>
<rect x="784.4" y="131.9" width="7.4" height="63.8" fill="#b3b3b3"/>
<rect x="791.8" y="155.5" width="7.4" height="40.2" fill="#1b6f99"/>
<text x="788.1" y="203.4" font-size="4.4" fill="#333" text-anchor="middle">May</text>
<rect x="805.8" y="134.2" width="7.4" height="61.5" fill="#1e9bd7"/>
<rect x="813.1" y="161.6" width="7.4" height="34.1" fill="#b3b3b3"/>
<rect x="820.5" y="173.1" width="7.4" height="22.6" fill="#1b6f99"/>
<text x="816.9" y="203.4" font-size="4.4" fill="#333" text-anchor="middle">June</text>
<rect x="834.5" y="154.1" width="7.4" height="41.6" fill="#1e9bd7"/>
<rect x="841.9" y="166.1" width="7.4" height="29.6" fill="#b3b3b3"/>
<rect x="849.3" y="159.0" width="7.4" height="36.7" fill="#1b6f99"/>
<text x="845.6" y="203.4" font-size="4.4" fill="#333" text-anchor="middle">July</text>
<rect x="863.2" y="138.7" width="7.4" height="57.0" fill="#1e9bd7"/>
<rect x="870.6" y="168.6" width="7.4" height="27.1" fill="#b3b3b3"/>
<rect x="878.0" y="160.5" width="7.4" height="35.2" fill="#1b6f99"/>
<text x="874.4" y="203.4" font-size="4.4" fill="#333" text-anchor="middle">August</text>
<rect x="892.0" y="125.6" width="7.4" height="70.1" fill="#1e9bd7"/>
<rect x="899.4" y="150.5" width="7.4" height="45.2" fill="#b3b3b3"/>
<rect x="906.8" y="155.5" width="7.4" height="40.2" fill="#1b6f99"/>
<text x="903.1" y="203.4" font-size="4.4" fill="#333" text-anchor="middle">September</text>
<rect x="920.8" y="108.0" width="7.4" height="87.7" fill="#1e9bd7"/>
<rect x="928.1" y="148.5" width="7.4" height="47.2" fill="#b3b3b3"/>
<rect x="935.5" y="153.5" width="7.4" height="42.2" fill="#1b6f99"/>
<text x="931.9" y="203.4" font-size="4.4" fill="#333" text-anchor="middle">October</text>
<rect x="949.5" y="101.9" width="7.4" height="93.8" fill="#1e9bd7"/>
<rect x="956.9" y="120.0" width="7.4" height="75.7" fill="#b3b3b3"/>
<rect x="964.3" y="164.7" width="7.4" height="31.0" fill="#1b6f99"/>
<text x="960.6" y="203.4" font-size="4.4" fill="#333" text-anchor="middle">November</text>
<rect x="978.2" y="150.8" width="7.4" height="44.9" fill="#1e9bd7"/>
<rect x="985.6" y="163.4" width="7.4" height="32.3" fill="#b3b3b3"/>
<rect x="993.0" y="172.9" width="7.4" height="22.8" fill="#1b6f99"/>
<text x="989.4" y="203.4" font-size="4.4" fill="#333" text-anchor="middle">December</text>
<text x="738.6" y="218.2" font-size="7.0" fill="#333" text-anchor="middle">Child Protection Risk Levels</text>
<rect x="692.8" y="236.4" width="3.2" height="17.6" fill="#21b9ee"/>
<text x="686.8" y="247.6" font-size="6.9" fill="#777" text-anchor="end">Emergency</text>
<text x="700.6" y="247.7" font-size="7" fill="#333" stroke="#333" stroke-width="0.22">683</text>
<rect x="692.8" y="257.4" width="20.6" height="17.6" fill="#21b9ee"/>
<text x="686.8" y="268.6" font-size="6.9" fill="#777" text-anchor="end">High</text>
<text x="718.0" y="268.7" font-size="7" fill="#333" stroke="#333" stroke-width="0.22">4,388</text>
<rect x="692.8" y="278.4" width="56.2" height="17.6" fill="#21b9ee"/>
<text x="686.8" y="289.6" font-size="6.9" fill="#777" text-anchor="end">Low</text>
<text x="753.6" y="289.7" font-size="7" fill="#333" stroke="#333" stroke-width="0.22">11,968</text>
<rect x="692.8" y="299.4" width="106.5" height="17.6" fill="#21b9ee"/>
<text x="686.8" y="310.6" font-size="6.9" fill="#777" text-anchor="end">Medium</text>
<text x="803.9" y="310.7" font-size="7" fill="#333" stroke="#333" stroke-width="0.22">22,699</text>
<rect x="692.8" y="320.4" width="69.2" height="17.6" fill="#21b9ee"/>
<text x="686.8" y="331.6" font-size="6.9" fill="#777" text-anchor="end">No Risk</text>
<text x="766.6" y="331.7" font-size="7" fill="#333" stroke="#333" stroke-width="0.22">14,758</text>
<text x="923" y="218.2" font-size="7.1" fill="#333" text-anchor="middle">Types of Child Protection Incidents</text>
<rect x="929" y="233.8" width="60.9" height="11.5" fill="#21b9ee"/>
<text x="923" y="242.0" font-size="6.75" fill="#777" text-anchor="end">Psychosocial Distress</text>
<text x="985.8" y="242.0" font-size="6.9" font-weight="bold" fill="#fff" text-anchor="end">17,200</text>
<rect x="929" y="247.5" width="39.6" height="11.5" fill="#21b9ee"/>
<text x="923" y="255.7" font-size="6.75" fill="#777" text-anchor="end">Denial of Access to Reso...</text>
<text x="973.6" y="255.7" font-size="6.9" fill="#333" stroke="#333" stroke-width="0.22">11,180</text>
<rect x="929" y="261.1" width="10.5" height="11.5" fill="#21b9ee"/>
<text x="923" y="269.3" font-size="6.75" fill="#777" text-anchor="end">Exploitation</text>
<text x="944.5" y="269.3" font-size="6.9" fill="#333" stroke="#333" stroke-width="0.22">2,968</text>
<rect x="929" y="274.8" width="10.2" height="11.5" fill="#21b9ee"/>
<text x="923" y="283.0" font-size="6.75" fill="#777" text-anchor="end">Mental/Emotional Abuse</text>
<text x="944.2" y="283.0" font-size="6.9" fill="#333" stroke="#333" stroke-width="0.22">2,884</text>
<rect x="929" y="288.4" width="10.1" height="11.5" fill="#21b9ee"/>
<text x="923" y="296.6" font-size="6.75" fill="#777" text-anchor="end">Neglect or Negligent Tre...</text>
<text x="944.1" y="296.6" font-size="6.9" fill="#333" stroke="#333" stroke-width="0.22">2,844</text>
<rect x="929" y="302.1" width="2.5" height="11.5" fill="#21b9ee"/>
<text x="923" y="310.3" font-size="6.75" fill="#777" text-anchor="end">Physical Violence/Abuse</text>
<text x="936.5" y="310.3" font-size="6.9" fill="#333" stroke="#333" stroke-width="0.22">699</text>
<rect x="929" y="315.8" width="0.5" height="11.5" fill="#21b9ee"/>
<text x="923" y="324.0" font-size="6.75" fill="#777" text-anchor="end">Sexual Violence</text>
<text x="934.3" y="324.0" font-size="6.9" fill="#333" stroke="#333" stroke-width="0.22">80</text>
<rect x="929" y="329.4" width="0.5" height="11.5" fill="#21b9ee"/>
<text x="923" y="337.6" font-size="6.75" fill="#777" text-anchor="end">Self-Harm</text>
<text x="934.0" y="337.6" font-size="6.9" fill="#333" stroke="#333" stroke-width="0.22">14</text>
<rect x="650" y="351.6" width="368" height="0.8" fill="#e6e6e6"/>
</svg><div class="a sl" style="left:7.8px;top:367px;">Location</div>
<div class="dd" style="left:7px;top:380px;width:123px;height:15.6px;"><span>All</span></div>
<div class="a sl" style="left:144.8px;top:367px;">Month</div>
<div class="dd" style="left:143.8px;top:380px;width:132.4px;height:15.6px;"><span>All</span></div>
<div class="a" style="left:7px;top:408.4px;font-size:7px;color:#555;">Breakdown of Beneficiaries by Gender*</div>
<div class="a" style="left:144.8px;top:408.4px;font-size:7px;color:#555;">Breakdown of Beneficiaries by Nationality*</div>
<div class="a sl" style="left:15.6px;top:539.2px;font-size:7.5px;letter-spacing:0;">Appeal</div>
<div class="dd" style="left:13.6px;top:552px;width:59.2px;height:15.6px;"><span style="left:4px;font-size:8px;">All</span></div>
<div class="a sl" style="left:97.7px;top:539.2px;font-size:7.4px;letter-spacing:0;">EQ Response Activity</div>
<div class="dd" style="left:95.7px;top:552.2px;width:94px;height:15.8px;"><span style="left:4px;font-size:8.6px;">All</span></div>
<div class="a sl" style="left:215.2px;top:540px;font-size:7.5px;letter-spacing:0;">Nationality</div>
<div class="dd" style="left:213px;top:552.8px;width:64.5px;height:16px;"><span style="left:4.5px;font-size:8.6px;">All</span></div>
<svg width="1024" height="730" viewBox="0 0 1024 730">
<path d="M119.6,386.2 l3.9,4.0 l3.9,-4.0" fill="none" stroke="#8c8c8c" stroke-width="0.9"/>
<path d="M264.8,386.2 l4.2,4.2 l4.2,-4.2" fill="none" stroke="#8c8c8c" stroke-width="0.9"/>
<path d="M62.4,558.0 l3.5,3.6 l3.5,-3.6" fill="none" stroke="#8c8c8c" stroke-width="0.9"/>
<path d="M177.8,558.4 l3.8,3.8 l3.8,-3.8" fill="none" stroke="#8c8c8c" stroke-width="0.9"/>
<path d="M265.6,559.0 l3.8,3.8 l3.8,-3.8" fill="none" stroke="#8c8c8c" stroke-width="0.9"/>
<circle cx="68.2" cy="472.1" r="34.05" fill="none" stroke="#21b9ee" stroke-width="6.5"/>
<circle cx="68.2" cy="472.1" r="34.05" fill="none" stroke="#b3b3b3" stroke-width="6.5" stroke-dasharray="107.40 213.94" transform="rotate(-90 68.2 472.1)"/>
<text transform="translate(68.4 473.9) scale(1.15 1)" x="0" y="0" font-size="10.6px" font-weight="bold" fill="#111" text-anchor="middle" letter-spacing="0.3" stroke="#111" stroke-width="0.35">127,682</text>
<path d="M60.5,430 h7.6 v3.6" fill="none" stroke="#c8c8c8" stroke-width="0.6"/>
<path d="M31,442.4 h8 l2.4,2" fill="none" stroke="#c8c8c8" stroke-width="0.6"/>
<path d="M96,500.6 l2.6,1.8 h6.4" fill="none" stroke="#c8c8c8" stroke-width="0.6"/>
<text x="43" y="428.6" font-size="7.8" fill="#666">GNC</text>
<text x="42.2" y="439.4" font-size="7.8" fill="#666">0.0%</text>
<text x="12" y="441.2" font-size="7.8" fill="#666">Male</text>
<text x="7.8" y="451.4" font-size="7.8" fill="#666">49.8%</text>
<text x="107.8" y="501.2" font-size="7.8" fill="#666">Female</text>
<text x="107.8" y="511.6" font-size="7.8" fill="#666">50.2%</text>
<rect x="182.2" y="429.8" width="81.9" height="12.9" fill="#21b9ee"/>
<text x="176.6" y="438.8" font-size="7" fill="#7a7a7a" text-anchor="end">Syrian</text>
<text x="259.2" y="438.8" font-size="6.8" font-weight="bold" fill="#fff" text-anchor="end">97,838</text>
<rect x="182.2" y="445.2" width="22.6" height="12.9" fill="#21b9ee"/>
<text x="176.6" y="454.2" font-size="7" fill="#7a7a7a" text-anchor="end">Turkish</text>
<text x="209.6" y="454.2" font-size="6.9" fill="#333" stroke="#333" stroke-width="0.22">26,951</text>
<rect x="182.2" y="460.6" width="2.2" height="12.9" fill="#21b9ee"/>
<text x="176.6" y="469.6" font-size="7" fill="#7a7a7a" text-anchor="end">Other N...</text>
<text x="189.2" y="469.6" font-size="6.9" fill="#333" stroke="#333" stroke-width="0.22">2,654</text>
<rect x="182.2" y="476.0" width="0.7" height="12.9" fill="#21b9ee"/>
<text x="176.6" y="485.0" font-size="7" fill="#7a7a7a" text-anchor="end">Afghan</text>
<text x="187.2" y="485.0" font-size="6.9" fill="#333" stroke="#333" stroke-width="0.22">238</text>
<text x="176.6" y="500.4" font-size="7" fill="#7a7a7a" text-anchor="end">Ukranian</text>
<text x="187.0" y="500.4" font-size="6.9" fill="#333" stroke="#333" stroke-width="0.22">0</text>
<text x="176.6" y="515.8" font-size="7" fill="#7a7a7a" text-anchor="end">Unkno...</text>
<text x="187.0" y="515.8" font-size="6.9" fill="#333" stroke="#333" stroke-width="0.22">0</text>
</svg>
<div class="hl" style="left:6px;width:1012px;top:585px;background:#8a8a8a;"></div>
<div class="kc" style="left:289.0px;top:363.0px;width:175.6px;height:100.5px;">
<svg width="175.6" height="100.5" viewBox="0 0 175.6 100.5">
<path d="M4.9,52.3 C7.4,45.2 15.0,14.1 20.1,9.6 C25.2,5.1 30.3,20.5 35.3,25.4 C40.4,30.3 45.3,37.9 50.4,39.0 C55.4,40.1 60.5,30.7 65.6,31.9 C70.7,33.1 75.7,41.2 80.8,46.2 C85.9,51.2 91.2,61.6 96.2,62.1 C101.2,62.7 106.0,53.4 111.0,49.5 C116.0,45.6 121.3,43.1 126.4,39.0 C131.5,34.9 136.6,28.2 141.7,25.0 C146.8,21.8 151.9,14.0 156.9,19.8 C161.9,25.6 169.4,53.0 171.9,59.7 L171.9,100.5 L4.9,100.5 Z" fill="#edf5fa"/>
</svg>
<div class="kn" style="top:8.9px;">54,496</div>
<div class="kl" style="top:47.0px;"># of children assessed for<br>protection needs</div>
<svg width="175.6" height="100.5" viewBox="0 0 175.6 100.5">
<path d="M4.9,52.3 C7.4,45.2 15.0,14.1 20.1,9.6 C25.2,5.1 30.3,20.5 35.3,25.4 C40.4,30.3 45.3,37.9 50.4,39.0 C55.4,40.1 60.5,30.7 65.6,31.9 C70.7,33.1 75.7,41.2 80.8,46.2 C85.9,51.2 91.2,61.6 96.2,62.1 C101.2,62.7 106.0,53.4 111.0,49.5 C116.0,45.6 121.3,43.1 126.4,39.0 C131.5,34.9 136.6,28.2 141.7,25.0 C146.8,21.8 151.9,14.0 156.9,19.8 C161.9,25.6 169.4,53.0 171.9,59.7" fill="none" stroke="#60bbe3" stroke-width="0.9"/>
<circle cx="4.9" cy="52.3" r="1.1" fill="#4aa6d2"/>
<circle cx="20.1" cy="9.6" r="1.1" fill="#4aa6d2"/>
<circle cx="35.3" cy="25.4" r="1.1" fill="#4aa6d2"/>
<circle cx="50.4" cy="39.0" r="1.1" fill="#4aa6d2"/>
<circle cx="65.6" cy="31.9" r="1.1" fill="#4aa6d2"/>
<circle cx="80.8" cy="46.2" r="1.1" fill="#4aa6d2"/>
<circle cx="96.2" cy="62.1" r="1.1" fill="#4aa6d2"/>
<circle cx="111.0" cy="49.5" r="1.1" fill="#4aa6d2"/>
<circle cx="126.4" cy="39.0" r="1.1" fill="#4aa6d2"/>
<circle cx="141.7" cy="25.0" r="1.1" fill="#4aa6d2"/>
<circle cx="156.9" cy="19.8" r="1.1" fill="#4aa6d2"/>
<circle cx="171.9" cy="59.7" r="1.1" fill="#4aa6d2"/>
</svg>
</div>
<div class="kc" style="left:474.0px;top:363.0px;width:175.6px;height:100.5px;">
<svg width="175.6" height="100.5" viewBox="0 0 175.6 100.5">
<path d="M4.9,56.6 C7.4,48.8 15.0,15.3 20.1,9.6 C25.2,3.9 30.3,18.0 35.3,22.6 C40.4,27.2 45.3,33.5 50.4,37.1 C55.4,40.8 60.5,38.8 65.6,44.5 C70.7,50.2 75.7,65.2 80.8,71.4 C85.9,77.6 91.2,79.5 96.2,81.6 C101.2,83.7 106.0,84.8 111.0,83.9 C116.0,83.0 121.4,77.8 126.5,76.4 C131.6,75.0 136.6,77.5 141.7,75.5 C146.8,73.5 151.9,63.2 156.9,64.4 C161.9,65.6 169.4,79.6 171.9,82.6 L171.9,100.5 L4.9,100.5 Z" fill="#edf5fa"/>
</svg>
<div class="kn" style="top:8.9px;">73,186</div>
<div class="kl" style="top:47.0px;"># of children identified to be<br>at risk</div>
<svg width="175.6" height="100.5" viewBox="0 0 175.6 100.5">
<path d="M4.9,56.6 C7.4,48.8 15.0,15.3 20.1,9.6 C25.2,3.9 30.3,18.0 35.3,22.6 C40.4,27.2 45.3,33.5 50.4,37.1 C55.4,40.8 60.5,38.8 65.6,44.5 C70.7,50.2 75.7,65.2 80.8,71.4 C85.9,77.6 91.2,79.5 96.2,81.6 C101.2,83.7 106.0,84.8 111.0,83.9 C116.0,83.0 121.4,77.8 126.5,76.4 C131.6,75.0 136.6,77.5 141.7,75.5 C146.8,73.5 151.9,63.2 156.9,64.4 C161.9,65.6 169.4,79.6 171.9,82.6" fill="none" stroke="#60bbe3" stroke-width="0.9"/>
<circle cx="4.9" cy="56.6" r="1.1" fill="#4aa6d2"/>
<circle cx="20.1" cy="9.6" r="1.1" fill="#4aa6d2"/>
<circle cx="35.3" cy="22.6" r="1.1" fill="#4aa6d2"/>
<circle cx="50.4" cy="37.1" r="1.1" fill="#4aa6d2"/>
<circle cx="65.6" cy="44.5" r="1.1" fill="#4aa6d2"/>
<circle cx="80.8" cy="71.4" r="1.1" fill="#4aa6d2"/>
<circle cx="96.2" cy="81.6" r="1.1" fill="#4aa6d2"/>
<circle cx="111.0" cy="83.9" r="1.1" fill="#4aa6d2"/>
<circle cx="126.5" cy="76.4" r="1.1" fill="#4aa6d2"/>
<circle cx="141.7" cy="75.5" r="1.1" fill="#4aa6d2"/>
<circle cx="156.9" cy="64.4" r="1.1" fill="#4aa6d2"/>
<circle cx="171.9" cy="82.6" r="1.1" fill="#4aa6d2"/>
</svg>
</div>
<div class="kc" style="left:666.5px;top:363.0px;width:175.6px;height:100.5px;">
<svg width="175.6" height="100.5" viewBox="0 0 175.6 100.5">
<path d="M4.8,36.2 C7.3,34.7 15.0,25.6 20.0,27.3 C25.0,29.1 29.8,49.6 34.9,46.7 C39.9,43.7 45.2,10.7 50.3,9.6 C55.4,8.5 60.5,31.1 65.5,40.2 C70.5,49.3 75.3,63.6 80.4,64.4 C85.4,65.2 90.7,47.8 95.8,44.9 C100.9,42.0 105.9,47.9 111.0,47.1 C116.1,46.3 121.2,41.6 126.2,39.9 C131.2,38.2 136.0,34.7 141.0,36.9 C146.0,39.1 151.3,48.3 156.4,52.9 C161.4,57.5 168.8,62.5 171.3,64.4 L171.3,100.5 L4.8,100.5 Z" fill="#edf5fa"/>
</svg>
<div class="kn" style="top:8.9px;">29,488</div>
<div class="kl" style="top:47.0px;">4.1.3 # of children referred to<br>specialised/multi-sectoral<br>services</div>
<svg width="175.6" height="100.5" viewBox="0 0 175.6 100.5">
<path d="M4.8,36.2 C7.3,34.7 15.0,25.6 20.0,27.3 C25.0,29.1 29.8,49.6 34.9,46.7 C39.9,43.7 45.2,10.7 50.3,9.6 C55.4,8.5 60.5,31.1 65.5,40.2 C70.5,49.3 75.3,63.6 80.4,64.4 C85.4,65.2 90.7,47.8 95.8,44.9 C100.9,42.0 105.9,47.9 111.0,47.1 C116.1,46.3 121.2,41.6 126.2,39.9 C131.2,38.2 136.0,34.7 141.0,36.9 C146.0,39.1 151.3,48.3 156.4,52.9 C161.4,57.5 168.8,62.5 171.3,64.4" fill="none" stroke="#60bbe3" stroke-width="0.9"/>
<circle cx="4.8" cy="36.2" r="1.1" fill="#4aa6d2"/>
<circle cx="20.0" cy="27.3" r="1.1" fill="#4aa6d2"/>
<circle cx="34.9" cy="46.7" r="1.1" fill="#4aa6d2"/>
<circle cx="50.3" cy="9.6" r="1.1" fill="#4aa6d2"/>
<circle cx="65.5" cy="40.2" r="1.1" fill="#4aa6d2"/>
<circle cx="80.4" cy="64.4" r="1.1" fill="#4aa6d2"/>
<circle cx="95.8" cy="44.9" r="1.1" fill="#4aa6d2"/>
<circle cx="111.0" cy="47.1" r="1.1" fill="#4aa6d2"/>
<circle cx="126.2" cy="39.9" r="1.1" fill="#4aa6d2"/>
<circle cx="141.0" cy="36.9" r="1.1" fill="#4aa6d2"/>
<circle cx="156.4" cy="52.9" r="1.1" fill="#4aa6d2"/>
<circle cx="171.3" cy="64.4" r="1.1" fill="#4aa6d2"/>
</svg>
</div>
<div class="kc" style="left:848.5px;top:363.0px;width:175.5px;height:100.5px;">
<svg width="175.5" height="100.5" viewBox="0 0 175.5 100.5">
<path d="M4.1,46.7 C6.9,40.5 15.2,5.1 20.8,9.6 C26.4,14.1 32.2,60.8 37.8,73.6 C43.4,86.4 49.0,84.8 54.5,86.3 C60.0,87.9 65.4,93.1 70.9,82.9 C76.4,72.7 81.9,23.1 87.5,25.0 C93.1,26.9 98.7,91.8 104.3,94.0 C109.9,96.2 115.4,38.4 121.0,38.4 C126.6,38.4 132.1,84.7 137.7,94.0 C143.3,103.3 148.8,94.0 154.4,94.0 C160.0,94.0 168.3,94.0 171.1,94.0 L171.1,100.5 L4.1,100.5 Z" fill="#edf5fa"/>
</svg>
<div class="kn" style="top:8.9px;">10,434</div>
<div class="kl" style="top:47.0px;"># of children participating in<br>structured and sustained<br>community based child<br>protection programmes</div>
<svg width="175.5" height="100.5" viewBox="0 0 175.5 100.5">
<path d="M4.1,46.7 C6.9,40.5 15.2,5.1 20.8,9.6 C26.4,14.1 32.2,60.8 37.8,73.6 C43.4,86.4 49.0,84.8 54.5,86.3 C60.0,87.9 65.4,93.1 70.9,82.9 C76.4,72.7 81.9,23.1 87.5,25.0 C93.1,26.9 98.7,91.8 104.3,94.0 C109.9,96.2 115.4,38.4 121.0,38.4 C126.6,38.4 132.1,84.7 137.7,94.0 C143.3,103.3 148.8,94.0 154.4,94.0 C160.0,94.0 168.3,94.0 171.1,94.0" fill="none" stroke="#60bbe3" stroke-width="0.9"/>
<circle cx="4.1" cy="46.7" r="1.1" fill="#4aa6d2"/>
<circle cx="20.8" cy="9.6" r="1.1" fill="#4aa6d2"/>
<circle cx="37.8" cy="73.6" r="1.1" fill="#4aa6d2"/>
<circle cx="54.5" cy="86.3" r="1.1" fill="#4aa6d2"/>
<circle cx="70.9" cy="82.9" r="1.1" fill="#4aa6d2"/>
<circle cx="87.5" cy="25.0" r="1.1" fill="#4aa6d2"/>
<circle cx="104.3" cy="94.0" r="1.1" fill="#4aa6d2"/>
<circle cx="121.0" cy="38.4" r="1.1" fill="#4aa6d2"/>
<circle cx="137.7" cy="94.0" r="1.1" fill="#4aa6d2"/>
<circle cx="154.4" cy="94.0" r="1.1" fill="#4aa6d2"/>
<circle cx="171.1" cy="94.0" r="1.1" fill="#4aa6d2"/>
</svg>
</div>
<div class="kc" style="left:289.0px;top:477.7px;width:175.6px;height:99.4px;">
<svg width="175.6" height="99.4" viewBox="0 0 175.6 99.4">
<path d="M4.9,84.5 C7.4,83.1 15.0,82.1 20.1,76.2 C25.2,70.3 30.3,54.7 35.3,48.9 C40.4,43.1 45.3,40.1 50.4,41.5 C55.4,43.0 60.5,62.9 65.6,57.6 C70.7,52.3 75.7,6.6 80.8,9.9 C85.9,13.3 91.2,66.3 96.2,77.7 C101.2,89.0 106.0,78.0 111.0,78.0 C116.0,78.1 121.3,78.5 126.4,78.0 C131.5,77.5 136.6,75.9 141.7,75.2 C146.8,74.5 151.9,72.2 156.9,73.9 C161.9,75.6 169.4,83.6 171.9,85.5 L171.9,99.4 L4.9,99.4 Z" fill="#edf5fa"/>
</svg>
<div class="kn" style="top:9.2px;">39,530</div>
<div class="kl" style="top:47.3px;"># of children participating in<br>structured, sustained child<br>protection or psycho-social<br>support programmes</div>
<svg width="175.6" height="99.4" viewBox="0 0 175.6 99.4">
<path d="M4.9,84.5 C7.4,83.1 15.0,82.1 20.1,76.2 C25.2,70.3 30.3,54.7 35.3,48.9 C40.4,43.1 45.3,40.1 50.4,41.5 C55.4,43.0 60.5,62.9 65.6,57.6 C70.7,52.3 75.7,6.6 80.8,9.9 C85.9,13.3 91.2,66.3 96.2,77.7 C101.2,89.0 106.0,78.0 111.0,78.0 C116.0,78.1 121.3,78.5 126.4,78.0 C131.5,77.5 136.6,75.9 141.7,75.2 C146.8,74.5 151.9,72.2 156.9,73.9 C161.9,75.6 169.4,83.6 171.9,85.5" fill="none" stroke="#60bbe3" stroke-width="0.9"/>
<circle cx="4.9" cy="84.5" r="1.1" fill="#4aa6d2"/>
<circle cx="20.1" cy="76.2" r="1.1" fill="#4aa6d2"/>
<circle cx="35.3" cy="48.9" r="1.1" fill="#4aa6d2"/>
<circle cx="50.4" cy="41.5" r="1.1" fill="#4aa6d2"/>
<circle cx="65.6" cy="57.6" r="1.1" fill="#4aa6d2"/>
<circle cx="80.8" cy="9.9" r="1.1" fill="#4aa6d2"/>
<circle cx="96.2" cy="77.7" r="1.1" fill="#4aa6d2"/>
<circle cx="111.0" cy="78.0" r="1.1" fill="#4aa6d2"/>
<circle cx="126.4" cy="78.0" r="1.1" fill="#4aa6d2"/>
<circle cx="141.7" cy="75.2" r="1.1" fill="#4aa6d2"/>
<circle cx="156.9" cy="73.9" r="1.1" fill="#4aa6d2"/>
<circle cx="171.9" cy="85.5" r="1.1" fill="#4aa6d2"/>
</svg>
</div>
<div class="kc" style="left:474.0px;top:477.7px;width:175.6px;height:99.4px;">
<svg width="175.6" height="99.4" viewBox="0 0 175.6 99.4">
<path d="M3.8,55.4 C6.4,58.6 14.1,76.6 19.2,74.5 C24.3,72.4 29.3,48.5 34.4,42.8 C39.5,37.1 44.7,35.6 49.8,40.2 C54.8,44.8 59.7,75.2 64.7,70.2 C69.8,65.1 75.0,9.0 80.1,9.9 C85.2,10.8 90.2,72.8 95.3,75.4 C100.4,78.0 105.4,28.2 110.5,25.3 C115.6,22.4 120.9,51.5 125.9,58.2 C130.9,64.8 135.7,64.2 140.7,65.2 C145.7,66.2 151.0,69.6 156.0,64.3 C161.0,59.0 168.5,38.6 171.0,33.5 L171.0,99.4 L3.8,99.4 Z" fill="#edf5fa"/>
</svg>
<div class="kn" style="top:9.2px;">17,596</div>
<div class="kl" style="top:47.3px;"># of individuals reached with<br>positive parenting<br>programmes</div>
<svg width="175.6" height="99.4" viewBox="0 0 175.6 99.4">
<path d="M3.8,55.4 C6.4,58.6 14.1,76.6 19.2,74.5 C24.3,72.4 29.3,48.5 34.4,42.8 C39.5,37.1 44.7,35.6 49.8,40.2 C54.8,44.8 59.7,75.2 64.7,70.2 C69.8,65.1 75.0,9.0 80.1,9.9 C85.2,10.8 90.2,72.8 95.3,75.4 C100.4,78.0 105.4,28.2 110.5,25.3 C115.6,22.4 120.9,51.5 125.9,58.2 C130.9,64.8 135.7,64.2 140.7,65.2 C145.7,66.2 151.0,69.6 156.0,64.3 C161.0,59.0 168.5,38.6 171.0,33.5" fill="none" stroke="#60bbe3" stroke-width="0.9"/>
<circle cx="3.8" cy="55.4" r="1.1" fill="#4aa6d2"/>
<circle cx="19.2" cy="74.5" r="1.1" fill="#4aa6d2"/>
<circle cx="34.4" cy="42.8" r="1.1" fill="#4aa6d2"/>
<circle cx="49.8" cy="40.2" r="1.1" fill="#4aa6d2"/>
<circle cx="64.7" cy="70.2" r="1.1" fill="#4aa6d2"/>
<circle cx="80.1" cy="9.9" r="1.1" fill="#4aa6d2"/>
<circle cx="95.3" cy="75.4" r="1.1" fill="#4aa6d2"/>
<circle cx="110.5" cy="25.3" r="1.1" fill="#4aa6d2"/>
<circle cx="125.9" cy="58.2" r="1.1" fill="#4aa6d2"/>
<circle cx="140.7" cy="65.2" r="1.1" fill="#4aa6d2"/>
<circle cx="156.0" cy="64.3" r="1.1" fill="#4aa6d2"/>
<circle cx="171.0" cy="33.5" r="1.1" fill="#4aa6d2"/>
</svg>
</div>
<div class="kc" style="left:666.5px;top:477.7px;width:175.6px;height:99.4px;">
<svg width="175.6" height="99.4" viewBox="0 0 175.6 99.4">
<path d="M4.3,42.0 C6.8,39.7 14.4,28.9 19.5,27.9 C24.6,26.9 29.8,36.6 34.9,35.9 C40.0,35.2 45.3,28.1 50.3,23.8 C55.3,19.5 60.1,7.0 65.1,9.9 C70.1,12.9 75.4,36.2 80.4,41.5 C85.4,46.9 90.1,39.5 95.2,42.0 C100.3,44.5 105.9,54.4 111.0,56.3 C116.1,58.2 120.8,55.2 125.8,53.5 C130.8,51.8 135.9,46.6 141.0,46.1 C146.1,45.6 151.3,46.0 156.4,50.4 C161.4,54.8 168.8,68.8 171.3,72.5 L171.3,99.4 L4.3,99.4 Z" fill="#edf5fa"/>
</svg>
<div class="kn" style="top:9.2px;">61,844</div>
<div class="kl" style="top:47.3px;"># of individuals reached<br>through information<br>campaigns and<br>awareness-raising initiatives</div>
<svg width="175.6" height="99.4" viewBox="0 0 175.6 99.4">
<path d="M4.3,42.0 C6.8,39.7 14.4,28.9 19.5,27.9 C24.6,26.9 29.8,36.6 34.9,35.9 C40.0,35.2 45.3,28.1 50.3,23.8 C55.3,19.5 60.1,7.0 65.1,9.9 C70.1,12.9 75.4,36.2 80.4,41.5 C85.4,46.9 90.1,39.5 95.2,42.0 C100.3,44.5 105.9,54.4 111.0,56.3 C116.1,58.2 120.8,55.2 125.8,53.5 C130.8,51.8 135.9,46.6 141.0,46.1 C146.1,45.6 151.3,46.0 156.4,50.4 C161.4,54.8 168.8,68.8 171.3,72.5" fill="none" stroke="#60bbe3" stroke-width="0.9"/>
<circle cx="4.3" cy="42.0" r="1.1" fill="#4aa6d2"/>
<circle cx="19.5" cy="27.9" r="1.1" fill="#4aa6d2"/>
<circle cx="34.9" cy="35.9" r="1.1" fill="#4aa6d2"/>
<circle cx="50.3" cy="23.8" r="1.1" fill="#4aa6d2"/>
<circle cx="65.1" cy="9.9" r="1.1" fill="#4aa6d2"/>
<circle cx="80.4" cy="41.5" r="1.1" fill="#4aa6d2"/>
<circle cx="95.2" cy="42.0" r="1.1" fill="#4aa6d2"/>
<circle cx="111.0" cy="56.3" r="1.1" fill="#4aa6d2"/>
<circle cx="125.8" cy="53.5" r="1.1" fill="#4aa6d2"/>
<circle cx="141.0" cy="46.1" r="1.1" fill="#4aa6d2"/>
<circle cx="156.4" cy="50.4" r="1.1" fill="#4aa6d2"/>
<circle cx="171.3" cy="72.5" r="1.1" fill="#4aa6d2"/>
</svg>
</div>
<div class="a" style="left:3.6px;top:594.2px;font-size:6.75px;font-weight:bold;color:#444;">Reporting Agencies</div>
<svg width="1024" height="730" viewBox="0 0 1024 730">
<rect x="3.50" y="605" width="30.3" height="33.2" fill="#21b9ee"/><text x="6.40" y="615.6" font-size="6.4" font-weight="bold" fill="#fff">ASAM</text>
<rect x="35.33" y="605" width="30.3" height="33.2" fill="#21b9ee"/><text x="38.23" y="615.6" font-size="6.4" font-weight="bold" fill="#fff">CARE...</text>
<rect x="67.16" y="605" width="30.3" height="33.2" fill="#21b9ee"/><text x="70.06" y="615.6" font-size="6.4" font-weight="bold" fill="#fff">DDD</text>
<rect x="98.99" y="605" width="30.3" height="33.2" fill="#21b9ee"/><text x="101.89" y="615.6" font-size="6.4" font-weight="bold" fill="#fff">Gazia...</text>
<rect x="130.82" y="605" width="30.3" height="33.2" fill="#21b9ee"/><text x="133.72" y="615.6" font-size="6.4" font-weight="bold" fill="#fff">GOA...</text>
<rect x="162.65" y="605" width="30.3" height="33.2" fill="#21b9ee"/><text x="165.55" y="615.6" font-size="6.4" font-weight="bold" fill="#fff">Hand...</text>
<rect x="194.48" y="605" width="30.3" height="33.2" fill="#21b9ee"/><text x="197.38" y="615.6" font-size="6.4" font-weight="bold" fill="#fff">Hata...</text>
<rect x="226.31" y="605" width="30.3" height="33.2" fill="#21b9ee"/><text x="229.21" y="615.6" font-size="6.4" font-weight="bold" fill="#fff">Hum...</text>
<rect x="258.14" y="605" width="30.3" height="33.2" fill="#21b9ee"/><text x="261.04" y="615.6" font-size="6.4" font-weight="bold" fill="#fff">ICMPD</text>
<rect x="289.97" y="605" width="30.3" height="33.2" fill="#21b9ee"/><text x="292.87" y="615.6" font-size="6.4" font-weight="bold" fill="#fff">IOM</text>
<rect x="321.80" y="605" width="30.3" height="33.2" fill="#21b9ee"/><text x="324.70" y="615.6" font-size="6.4" font-weight="bold" fill="#fff">Kilis-...</text>
<rect x="353.63" y="605" width="30.3" height="33.2" fill="#21b9ee"/><text x="356.53" y="615.6" font-size="6.4" font-weight="bold" fill="#fff">LWA</text>
<rect x="385.46" y="605" width="30.3" height="33.2" fill="#21b9ee"/><text x="388.36" y="615.6" font-size="6.4" font-weight="bold" fill="#fff">Maya...</text>
<rect x="417.29" y="605" width="30.3" height="33.2" fill="#21b9ee"/><text x="420.19" y="615.6" font-size="6.4" font-weight="bold" fill="#fff">NSPPL</text>
<rect x="449.12" y="605" width="30.3" height="33.2" fill="#21b9ee"/><text x="452.02" y="615.6" font-size="6.4" font-weight="bold" fill="#fff">Qata...</text>
<rect x="480.95" y="605" width="30.3" height="33.2" fill="#21b9ee"/><text x="483.85" y="615.6" font-size="6.4" font-weight="bold" fill="#fff">REALs</text>
<rect x="512.78" y="605" width="30.3" height="33.2" fill="#21b9ee"/><text x="515.68" y="615.6" font-size="6.4" font-weight="bold" fill="#fff">SAMS</text>
<rect x="544.61" y="605" width="30.3" height="33.2" fill="#21b9ee"/><text x="547.51" y="615.6" font-size="6.4" font-weight="bold" fill="#fff">Sanli...</text>
<rect x="576.44" y="605" width="30.3" height="33.2" fill="#21b9ee"/><text x="579.34" y="615.6" font-size="6.4" font-weight="bold" fill="#fff">SARD</text>
<rect x="608.27" y="605" width="30.3" height="33.2" fill="#21b9ee"/><text x="611.17" y="615.6" font-size="6.4" font-weight="bold" fill="#fff">Save ...</text>
<rect x="640.10" y="605" width="30.3" height="33.2" fill="#21b9ee"/><text x="643.00" y="615.6" font-size="6.4" font-weight="bold" fill="#fff">STL</text>
<rect x="671.93" y="605" width="30.3" height="33.2" fill="#21b9ee"/><text x="674.83" y="615.6" font-size="6.4" font-weight="bold" fill="#fff">TARDE</text>
<rect x="703.76" y="605" width="30.3" height="33.2" fill="#21b9ee"/><text x="706.66" y="615.6" font-size="6.4" font-weight="bold" fill="#fff">TKV</text>
<rect x="735.59" y="605" width="30.3" height="33.2" fill="#21b9ee"/><text x="738.49" y="615.6" font-size="6.4" font-weight="bold" fill="#fff">TRC</text>
<rect x="767.42" y="605" width="30.3" height="33.2" fill="#21b9ee"/><text x="770.32" y="615.6" font-size="6.4" font-weight="bold" fill="#fff">UNFPA</text>
<rect x="799.25" y="605" width="30.3" height="33.2" fill="#21b9ee"/><text x="802.15" y="615.6" font-size="6.4" font-weight="bold" fill="#fff">UNH...</text>
<rect x="831.08" y="605" width="30.3" height="33.2" fill="#21b9ee"/><text x="833.98" y="615.6" font-size="6.4" font-weight="bold" fill="#fff">UNIC...</text>
<rect x="862.91" y="605" width="30.3" height="33.2" fill="#21b9ee"/><text x="865.81" y="615.6" font-size="6.4" font-weight="bold" fill="#fff">Worl...</text>
<rect x="894.74" y="605" width="30.3" height="33.2" fill="#21b9ee"/><text x="897.64" y="615.6" font-size="6.4" font-weight="bold" fill="#fff">Yedi ...</text>
<rect x="926.57" y="605" width="30.3" height="33.2" fill="#21b9ee"/><text x="929.47" y="615.6" font-size="6.4" font-weight="bold" fill="#fff">Yeryü...</text>
<rect x="958.40" y="605" width="30.3" height="33.2" fill="#21b9ee"/><text x="961.30" y="615.6" font-size="6.4" font-weight="bold" fill="#fff">YSF</text>
<rect x="990.23" y="605" width="30.3" height="33.2" fill="#21b9ee"/><text x="993.13" y="615.6" font-size="6.4" font-weight="bold" fill="#fff">Zero ...</text>
</svg>
<div class="a" style="left:3.6px;top:641.6px;font-size:6.75px;font-weight:bold;color:#444;">Supporting Agencies</div>
<svg width="1024" height="730" viewBox="0 0 1024 730">
<rect x="3.50" y="652.4" width="39" height="32.8" fill="#b3b3b3"/><text x="6.40" y="663" font-size="6.4" fill="#e4e4e4">ASAM</text>
<rect x="44.26" y="652.4" width="39" height="32.8" fill="#b3b3b3"/><text x="47.16" y="663" font-size="6.4" fill="#e4e4e4">CARE In...</text>
<rect x="85.02" y="652.4" width="39" height="32.8" fill="#b3b3b3"/><text x="87.92" y="663" font-size="6.4" fill="#e4e4e4">Caritas I...</text>
<rect x="125.78" y="652.4" width="39" height="32.8" fill="#b3b3b3"/><text x="128.68" y="663" font-size="6.4" fill="#e4e4e4">DRC</text>
<rect x="166.54" y="652.4" width="39" height="32.8" fill="#b3b3b3"/><text x="169.44" y="663" font-size="6.4" fill="#e4e4e4">GOAL In...</text>
<rect x="207.30" y="652.4" width="39" height="32.8" fill="#b3b3b3"/><text x="210.20" y="663" font-size="6.4" fill="#e4e4e4">Hand in ...</text>
<rect x="248.06" y="652.4" width="39" height="32.8" fill="#b3b3b3"/><text x="250.96" y="663" font-size="6.4" fill="#e4e4e4">Human ...</text>
<rect x="288.82" y="652.4" width="39" height="32.8" fill="#b3b3b3"/><text x="291.72" y="663" font-size="6.4" fill="#e4e4e4">ICMPD</text>
<rect x="329.58" y="652.4" width="39" height="32.8" fill="#b3b3b3"/><text x="332.48" y="663" font-size="6.4" fill="#e4e4e4">IOM</text>
<rect x="370.34" y="652.4" width="39" height="32.8" fill="#b3b3b3"/><text x="373.24" y="663" font-size="6.4" fill="#e4e4e4">LWA</text>
<rect x="411.10" y="652.4" width="39" height="32.8" fill="#b3b3b3"/><text x="414.00" y="663" font-size="6.4" fill="#e4e4e4">Maya Fo...</text>
<rect x="451.86" y="652.4" width="39" height="32.8" fill="#b3b3b3"/><text x="454.76" y="663" font-size="6.4" fill="#e4e4e4">MDM</text>
<rect x="492.62" y="652.4" width="39" height="32.8" fill="#b3b3b3"/><text x="495.52" y="663" font-size="6.4" fill="#e4e4e4">Qatar C...</text>
<rect x="533.38" y="652.4" width="39" height="32.8" fill="#b3b3b3"/><text x="536.28" y="663" font-size="6.4" fill="#e4e4e4">REALs</text>
<rect x="574.14" y="652.4" width="39" height="32.8" fill="#b3b3b3"/><text x="577.04" y="663" font-size="6.4" fill="#e4e4e4">Relief In...</text>
<rect x="614.90" y="652.4" width="39" height="32.8" fill="#b3b3b3"/><text x="617.80" y="663" font-size="6.4" fill="#e4e4e4">SAMS</text>
<rect x="655.66" y="652.4" width="39" height="32.8" fill="#b3b3b3"/><text x="658.56" y="663" font-size="6.4" fill="#e4e4e4">SARD</text>
<rect x="696.42" y="652.4" width="39" height="32.8" fill="#b3b3b3"/><text x="699.32" y="663" font-size="6.4" fill="#e4e4e4">Save the...</text>
<rect x="737.18" y="652.4" width="39" height="32.8" fill="#b3b3b3"/><text x="740.08" y="663" font-size="6.4" fill="#e4e4e4">Solidar ...</text>
<rect x="777.94" y="652.4" width="39" height="32.8" fill="#b3b3b3"/><text x="780.84" y="663" font-size="6.4" fill="#e4e4e4">UNFPA</text>
<rect x="818.70" y="652.4" width="39" height="32.8" fill="#b3b3b3"/><text x="821.60" y="663" font-size="6.4" fill="#e4e4e4">UNHCR</text>
<rect x="859.46" y="652.4" width="39" height="32.8" fill="#b3b3b3"/><text x="862.36" y="663" font-size="6.4" fill="#e4e4e4">UNICEF</text>
<rect x="900.22" y="652.4" width="39" height="32.8" fill="#b3b3b3"/><text x="903.12" y="663" font-size="6.4" fill="#e4e4e4">World H...</text>
<rect x="940.98" y="652.4" width="39" height="32.8" fill="#b3b3b3"/><text x="943.88" y="663" font-size="6.4" fill="#e4e4e4">Yedi Bas...</text>
<rect x="981.74" y="652.4" width="39" height="32.8" fill="#b3b3b3"/><text x="984.64" y="663" font-size="6.4" fill="#e4e4e4">Yeryüzü ...</text>
</svg>
<div class="hl" style="left:6px;width:1012px;top:694.5px;background:#9a9a9a;"></div>
<div class="a" style="left:4px;top:707.4px;font-size:9.74px;font-style:italic;color:#777;"><span style="color:#111">Source</span>: PWG, ActivityInfo &nbsp;&nbsp;<span style="color:#111">Feedback</span>: IMTurkey@unhcr.org</div>
<div class="a" style="right:5.5px;top:707.4px;font-size:9.96px;font-style:italic;color:#727272;">*The number of beneficiaries reached is calculated by summing indicators selected by the sectors; there may be duplications.</div>
</body></html>
